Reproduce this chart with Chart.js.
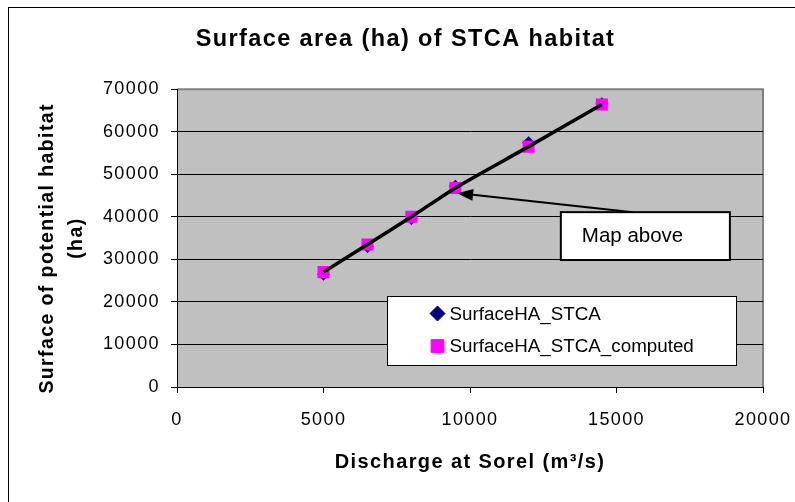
<!DOCTYPE html>
<html>
<head>
<meta charset="utf-8">
<script src="https://cdn.jsdelivr.net/npm/chart.js@4.4.0/dist/chart.umd.min.js"></script>
<style>
  html, body { margin: 0; padding: 0; background: #fff; }
  #wrap { width: 795px; height: 502px; }
</style>
</head>
<body>
<div id="wrap"><canvas id="chart" width="795" height="502"></canvas></div>
<script>
// values
var discharge = [5000, 6500, 8000, 9500, 12000, 14500];
var surfaceObserved = [26500, 33000, 39600, 47200, 57400, 66600];
var surfaceComputed = [27000, 33500, 40000, 46800, 56500, 66400];
var xTicks = [0, 5000, 10000, 15000, 20000];
var yTicks = [0, 10000, 20000, 30000, 40000, 50000, 60000, 70000];
var seriesNames = ['SurfaceHA_STCA', 'SurfaceHA_STCA_computed'];
var noteText = 'Map above';

// annotation placement, in axis units
var noteBox = { x0: 13100, x1: 18870, y0: 41100, y1: 29850 };
var arrowTail = { x: 15560, y: 41100 };
var arrowTip = { x: 9560, y: 45570 };
var legendBox = { x0: 7170, x1: 19080, y0: 21380, y1: 5170 };

var FONT = '"Liberation Sans", Arial, sans-serif';

function points(ys) {
  return discharge.map(function(x, i) { return { x: x, y: ys[i] }; });
}

function toPx(chart, x, y) {
  return [chart.scales.x.getPixelForValue(x), chart.scales.y.getPixelForValue(y)];
}

var framePlugin = {
  id: 'frame',
  beforeDraw: function(chart) {
    var ctx = chart.ctx, a = chart.chartArea;
    ctx.save();
    ctx.fillStyle = '#fff';
    ctx.fillRect(0, 0, chart.width, chart.height);
    ctx.strokeStyle = '#000';
    ctx.lineWidth = 1;
    ctx.strokeRect(8.5, 7.5, chart.width + 40, chart.height + 40);
    ctx.fillStyle = '#c0c0c0';
    ctx.fillRect(a.left, a.top, a.right - a.left, a.bottom - a.top);
    ctx.strokeStyle = '#808080';
    ctx.lineWidth = 2;
    ctx.beginPath();
    ctx.moveTo(a.left, a.top);
    ctx.lineTo(a.right, a.top);
    ctx.lineTo(a.right, a.bottom);
    ctx.stroke();
    ctx.restore();
    // the reference text is drawn a little wide
    ctx.letterSpacing = '1.4px';
  },
  afterDatasetsDraw: function(chart) {
    var ctx = chart.ctx;
    ctx.save();
    ctx.letterSpacing = '0px';

    // legend
    var p0 = toPx(chart, legendBox.x0, legendBox.y0);
    var p1 = toPx(chart, legendBox.x1, legendBox.y1);
    var l = Math.round(p0[0]) + 0.5, t = Math.round(p0[1]) + 0.5;
    var w = Math.round(p1[0] - p0[0]), h = Math.round(p1[1] - p0[1]);
    ctx.fillStyle = '#fff';
    ctx.fillRect(l, t, w, h);
    ctx.strokeStyle = '#000';
    ctx.lineWidth = 1;
    ctx.strokeRect(l, t, w, h);
    ctx.font = '18.8px ' + FONT;
    ctx.textBaseline = 'middle';
    ctx.textAlign = 'left';
    var rows = [chart.data.datasets[2], chart.data.datasets[1]];
    rows.forEach(function(ds, i) {
      var cy = t + 17 + i * 32.5;
      ctx.fillStyle = ds.backgroundColor;
      ctx.strokeStyle = ds.borderColor;
      Chart.helpers.drawPoint(ctx, {
        pointStyle: ds.pointStyle, radius: ds.pointStyle === 'rect' ? 9 : 7.5,
        rotation: 0, borderWidth: 1
      }, l + 50, cy);
      ctx.fillStyle = '#000';
      ctx.fillText(seriesNames[i], l + 62, cy + 1);
    });

    // arrow to the map point
    var tail = toPx(chart, arrowTail.x, arrowTail.y);
    var tip = toPx(chart, arrowTip.x, arrowTip.y);
    var ang = Math.atan2(tip[1] - tail[1], tip[0] - tail[0]);
    var head = 16, half = 6;
    var bx = tip[0] - head * Math.cos(ang), by = tip[1] - head * Math.sin(ang);
    ctx.strokeStyle = '#000';
    ctx.lineWidth = 2;
    ctx.beginPath();
    ctx.moveTo(tail[0], tail[1]);
    ctx.lineTo(bx, by);
    ctx.stroke();
    ctx.fillStyle = '#000';
    ctx.beginPath();
    ctx.moveTo(tip[0], tip[1]);
    ctx.lineTo(bx + half * Math.sin(ang), by - half * Math.cos(ang));
    ctx.lineTo(bx - half * Math.sin(ang), by + half * Math.cos(ang));
    ctx.closePath();
    ctx.fill();

    // note box
    var n0 = toPx(chart, noteBox.x0, noteBox.y0);
    var n1 = toPx(chart, noteBox.x1, noteBox.y1);
    ctx.fillStyle = '#fff';
    ctx.fillRect(n0[0], n0[1], n1[0] - n0[0], n1[1] - n0[1]);
    ctx.lineWidth = 2;
    ctx.strokeRect(n0[0], n0[1], n1[0] - n0[0], n1[1] - n0[1]);
    ctx.fillStyle = '#000';
    ctx.font = '20.5px ' + FONT;
    ctx.textBaseline = 'alphabetic';
    ctx.fillText(noteText, n0[0] + 21, n0[1] + 30);
    ctx.restore();
  }
};

new Chart(document.getElementById('chart'), {
  type: 'scatter',
  data: {
    datasets: [
      {
        label: 'curve',
        data: points(surfaceComputed),
        showLine: true,
        borderColor: '#000',
        borderWidth: 3.5,
        pointRadius: 0,
        tension: 0.2
      },
      {
        label: seriesNames[1],
        data: points(surfaceComputed),
        pointStyle: 'rect',
        pointRadius: 8.5,
        backgroundColor: '#ff00ff',
        borderColor: '#ff00ff',
        borderWidth: 0
      },
      {
        label: seriesNames[0],
        data: points(surfaceObserved),
        pointStyle: 'rectRot',
        pointRadius: 6.5,
        backgroundColor: '#000080',
        borderColor: '#000080',
        borderWidth: 0
      }
    ]
  },
  options: {
    responsive: false,
    animation: false,
    events: [],
    layout: { padding: { left: 48, right: 32, top: 0, bottom: 28 } },
    plugins: {
      legend: { display: false },
      tooltip: { enabled: false },
      title: {
        display: true,
        text: 'Surface area (ha) of STCA habitat',
        color: '#000',
        font: { family: FONT, size: 23.5, weight: 'bold', lineHeight: 1.2 },
        padding: { top: 25, bottom: 36 }
      }
    },
    scales: {
      x: {
        type: 'linear',
        min: 0,
        max: 20000,
        afterBuildTicks: function(s) { s.ticks = xTicks.map(function(v) { return { value: v }; }); },
        afterFit: function(s) { s.height = 87; },
        grid: { drawOnChartArea: false, drawTicks: true, tickLength: 6, color: '#000' },
        border: { color: '#000', width: 1 },
        ticks: {
          color: '#000',
          font: { family: FONT, size: 18, lineHeight: 2.6 },
          padding: 4,
          maxRotation: 0,
          autoSkip: false,
          callback: function(v) { return String(v); }
        },
        title: {
          display: true,
          text: 'Discharge at Sorel (m³/s)',
          color: '#000',
          font: { family: FONT, size: 20, weight: 'bold', lineHeight: 1.2 },
          padding: 0
        }
      },
      y: {
        min: 0,
        max: 70000,
        afterBuildTicks: function(s) { s.ticks = yTicks.map(function(v) { return { value: v }; }); },
        afterFit: function(s) { s.width = 129; },
        grid: {
          color: function(c) { return c.tick && c.tick.value === 70000 ? '#808080' : '#000'; },
          tickColor: '#000',
          tickLength: 6
        },
        border: { color: '#000', width: 1 },
        ticks: {
          color: '#000',
          font: { family: FONT, size: 18 },
          padding: 11,
          callback: function(v) { return String(v); }
        },
        title: {
          display: true,
          text: ['Surface of potential habitat   ', '(ha)'],
          color: '#000',
          font: { family: FONT, size: 19.5, weight: 'bold', lineHeight: 1.487 },
          padding: { top: -14.7, bottom: 0 }
        }
      }
    }
  },
  plugins: [framePlugin]
});
</script>
</body>
</html>
